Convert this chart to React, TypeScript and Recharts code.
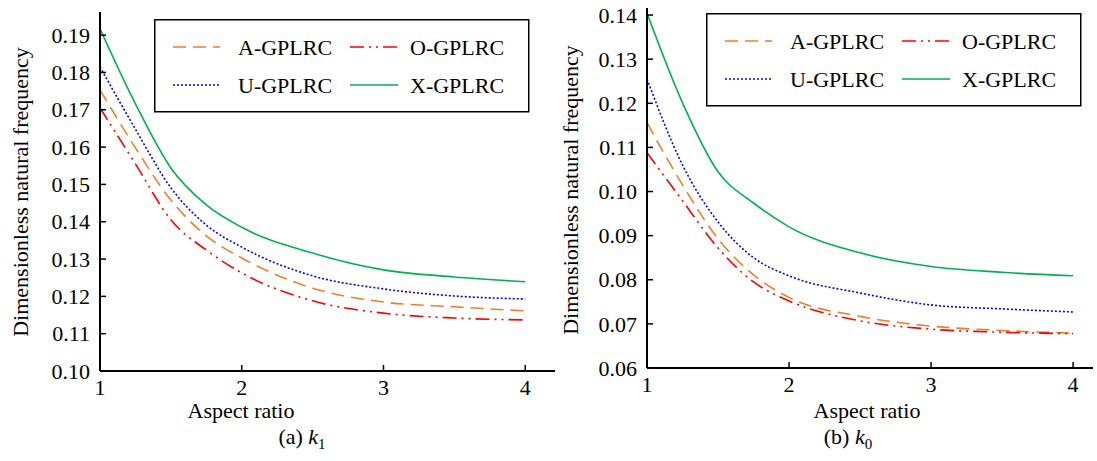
import React from "react";
import { LineChart, Line, XAxis, YAxis } from "recharts";

const aspectRatio = [1, 1.25, 1.5, 1.75, 2, 2.5, 3, 3.5, 4];

// (a) k1
const k1A = [0.1753, 0.1598, 0.1458, 0.1362, 0.1303, 0.1222, 0.1185, 0.1172, 0.1161];
const k1O = [0.1705, 0.1555, 0.1405, 0.1324, 0.1263, 0.1188, 0.1155, 0.1142, 0.1137];
const k1U = [0.1815, 0.1648, 0.1491, 0.1391, 0.1332, 0.1255, 0.1220, 0.1201, 0.1193];
const k1X = [0.1917, 0.1716, 0.1544, 0.1445, 0.1385, 0.1316, 0.1271, 0.1252, 0.1239];

// (b) k0
const k0A = [0.1156, 0.1015, 0.0893, 0.0811, 0.0760, 0.0717, 0.0695, 0.0685, 0.0679];
const k0O = [0.1088, 0.0979, 0.0872, 0.0795, 0.0752, 0.0707, 0.0688, 0.0681, 0.0678];
const k0U = [0.1255, 0.1060, 0.0931, 0.0850, 0.0809, 0.0770, 0.0743, 0.0734, 0.0727];
const k0X = [0.1404, 0.1201, 0.1045, 0.0974, 0.0920, 0.0861, 0.0830, 0.0817, 0.0809];

const xTicks = [1, 2, 3, 4];
const k1Ticks = [0.10, 0.11, 0.12, 0.13, 0.14, 0.15, 0.16, 0.17, 0.18, 0.19];
const k0Ticks = [0.06, 0.07, 0.08, 0.09, 0.10, 0.11, 0.12, 0.13, 0.14];

const seriesNames = ["A-GPLRC", "O-GPLRC", "U-GPLRC", "X-GPLRC"];
const seriesStyle: Record<string, { stroke: string; dash?: string }> = {
  "A-GPLRC": { stroke: "#EE7D2E", dash: "13 7" },
  "O-GPLRC": { stroke: "#FF0000", dash: "14 5 2 5 2 5" },
  "U-GPLRC": { stroke: "#0000FF", dash: "2 2" },
  "X-GPLRC": { stroke: "#00B050" },
};

const FONT = "'Liberation Serif', 'Times New Roman', serif";
const FS = 22;

function buildData(a: number[], o: number[], u: number[], x: number[]) {
  return aspectRatio.map((ar, i) => ({
    ar,
    "A-GPLRC": a[i],
    "O-GPLRC": o[i],
    "U-GPLRC": u[i],
    "X-GPLRC": x[i],
  }));
}

const YTick = (props: any) => {
  const { x, y, payload } = props;
  const M = 10;
  return (
    <g>
      <line x1={x + M} x2={x + M + 6} y1={y} y2={y} stroke="#000" strokeWidth={1.5} />
      <text x={x} y={y} dy="0.35em" textAnchor="end" fontFamily={FONT} fontSize={FS} fill="#000">
        {Number(payload.value).toFixed(2)}
      </text>
    </g>
  );
};

const XTick = (props: any) => {
  const { x, y, payload } = props;
  const M = 9;
  return (
    <g>
      <line x1={x} x2={x} y1={y - M} y2={y - M - 6} stroke="#000" strokeWidth={1.5} />
      <text x={x} y={y} dy="0.7em" textAnchor="middle" fontFamily={FONT} fontSize={FS} fill="#000">
        {payload.value}
      </text>
    </g>
  );
};

const LegendBox = ({ left, top }: { left: number; top: number }) => {
  const rows = [
    ["A-GPLRC", "O-GPLRC"],
    ["U-GPLRC", "X-GPLRC"],
  ];
  const rowY = [28, 66];
  const cols = [
    { l1: 19, l2: 66, t: 84 },
    { l1: 196, l2: 244, t: 256 },
  ];
  return (
    <svg
      width={376}
      height={94}
      style={{ position: "absolute", left, top, overflow: "visible" }}
    >
      <rect x={0.75} y={0.75} width={374} height={92} fill="#fff" stroke="#000" strokeWidth={1.5} />
      {rows.map((r, ri) =>
        r.map((name, ci) => {
          const st = seriesStyle[name];
          const c = cols[ci];
          return (
            <g key={name}>
              <line
                x1={c.l1}
                x2={c.l2}
                y1={rowY[ri]}
                y2={rowY[ri]}
                stroke={st.stroke}
                strokeWidth={1.6}
                strokeDasharray={st.dash}
              />
              <text x={c.t} y={rowY[ri]} dy="0.35em" fontFamily={FONT} fontSize={FS} fill="#000">
                {name}
              </text>
            </g>
          );
        })
      )}
    </svg>
  );
};

const Panel = ({
  data,
  width,
  margin,
  xMax,
  yDomain,
  yTicks,
}: {
  data: any[];
  width: number;
  margin: any;
  xMax: number;
  yDomain: [number, number];
  yTicks: number[];
}) => (
  <LineChart width={width} height={461} data={data} margin={margin}>
    <XAxis
      dataKey="ar"
      type="number"
      domain={[1, xMax]}
      ticks={xTicks}
      allowDataOverflow
      height={30}
      tickSize={0}
      tickMargin={9}
      tick={<XTick />}
      tickLine={false}
      axisLine={{ stroke: "#000", strokeWidth: 2 }}
    />
    <YAxis
      type="number"
      domain={yDomain}
      ticks={yTicks}
      allowDataOverflow
      width={60}
      tickSize={0}
      tickMargin={10}
      tick={<YTick />}
      tickLine={false}
      axisLine={{ stroke: "#000", strokeWidth: 2 }}
    />
    {seriesNames.map((name) => (
      <Line
        key={name}
        dataKey={name}
        type="monotone"
        stroke={seriesStyle[name].stroke}
        strokeDasharray={seriesStyle[name].dash}
        strokeWidth={1.6}
        dot={false}
        activeDot={false}
        isAnimationActive={false}
      />
    ))}
  </LineChart>
);

export default function App() {
  const d1 = buildData(k1A, k1O, k1U, k1X);
  const d0 = buildData(k0A, k0O, k0U, k0X);
  return (
    <div
      style={{
        position: "absolute",
        left: 0,
        top: 0,
        width: 1097,
        height: 461,
        background: "#fff",
        fontFamily: FONT,
      }}
    >
      <div style={{ position: "absolute", left: 0, top: 0 }}>
        <Panel
          data={d1}
          width={560}
          margin={{ top: 12, right: 5, bottom: 60, left: 40 }}
          xMax={4.21}
          yDomain={[0.1, 0.1962]}
          yTicks={k1Ticks}
        />
      </div>
      <div style={{ position: "absolute", left: 560, top: 0 }}>
        <Panel
          data={d0}
          width={537}
          margin={{ top: 8, right: 4, bottom: 63, left: 27 }}
          xMax={4.14}
          yDomain={[0.06, 0.1416]}
          yTicks={k0Ticks}
        />
      </div>
      <LegendBox left={154} top={19} />
      <LegendBox left={706} top={13} />
      <svg
        width={1097}
        height={461}
        style={{ position: "absolute", left: 0, top: 0, pointerEvents: "none" }}
      >
        <g fontFamily={FONT} fontSize={FS} fill="#000">
          <text x={241} y={418}>
            <tspan textAnchor="middle" x={241}>Aspect ratio</tspan>
          </text>
          <text x={867} y={418}>
            <tspan textAnchor="middle" x={867}>Aspect ratio</tspan>
          </text>
          <text transform="translate(20,192) rotate(-90)" dy="0.35em" textAnchor="middle">
            Dimensionless natural frequency
          </text>
          <text transform="translate(570,190) rotate(-90)" dy="0.35em" textAnchor="middle">
            Dimensionless natural frequency
          </text>
          <text x={302} y={444} textAnchor="middle" fontSize={22}>
            (a) <tspan fontStyle="italic">k</tspan>
            <tspan fontSize={15} dy="5">1</tspan>
          </text>
          <text x={848} y={444} textAnchor="middle" fontSize={22}>
            (b) <tspan fontStyle="italic">k</tspan>
            <tspan fontSize={15} dy="5">0</tspan>
          </text>
        </g>
      </svg>
    </div>
  );
}
